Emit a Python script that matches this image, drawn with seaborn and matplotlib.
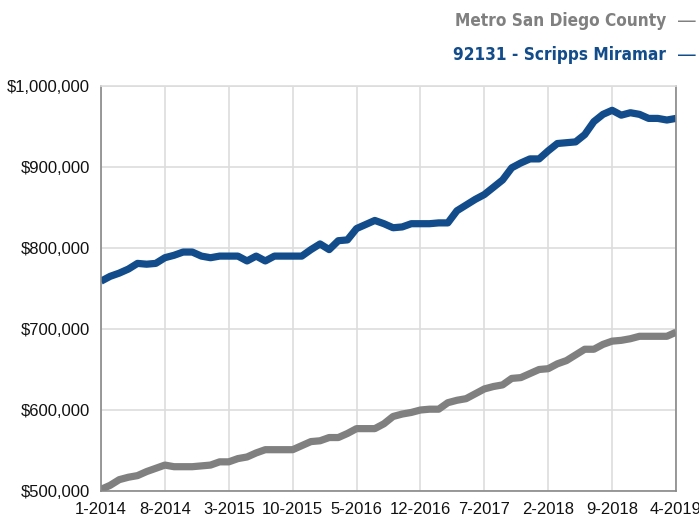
import matplotlib
matplotlib.use("Agg")
import matplotlib.pyplot as plt
import seaborn as sns
import pandas as pd
import numpy as np

tick_labels = ["1-2014", "8-2014", "3-2015", "10-2015", "5-2016", "12-2016",
               "7-2017", "2-2018", "9-2018", "4-2019"]

scripps = [759, 765, 769, 774, 781, 780, 781, 788, 791, 795, 795, 790,
           788, 790, 790, 790, 784, 790, 784, 790, 790, 790, 790, 798,
           805, 798, 809, 810, 824, 829, 834, 830, 825, 826, 830, 830,
           830, 831, 831, 846, 853, 860, 866, 875, 884, 899, 905, 910,
           910, 920, 929, 930, 931, 940, 956, 965, 970, 964, 967, 965,
           960, 960, 958, 960]

metro = [502, 507, 514, 517, 519, 524, 528, 532, 530, 530, 530, 531,
         532, 536, 536, 540, 542, 547, 551, 551, 551, 551, 556, 561,
         562, 566, 566, 571, 577, 577, 577, 583, 592, 595, 597, 600,
         601, 601, 609, 612, 614, 620, 626, 629, 631, 639, 640, 645,
         650, 651, 657, 661, 668, 675, 675, 681, 685, 686, 688, 691,
         691, 691, 691, 696]

series_names = ["Metro San Diego County", "92131 - Scripps Miramar"]
colors = {"Metro San Diego County": "#808080", "92131 - Scripps Miramar": "#124c8a"}

n = len(scripps)
df = pd.DataFrame({
    "month": list(range(n)) * 2,
    "value": [v * 1000 for v in metro] + [v * 1000 for v in scripps],
    "series": [series_names[0]] * n + [series_names[1]] * n,
})

sns.set_style("white")
plt.rcParams["font.family"] = ["Liberation Sans", "DejaVu Sans"]

fig = plt.figure(figsize=(6.99, 5.20), dpi=100)
ax = fig.add_axes([101 / 699, 1 - 491 / 520, 575 / 699, 405 / 520])

sns.lineplot(data=df, x="month", y="value", hue="series", palette=colors,
             linewidth=5.2, ax=ax, legend=False, solid_capstyle="butt")

ax.set_xlim(0, n - 1)
ax.set_ylim(500000, 1000000)
ax.set_xticks(range(0, n, 7))
ax.set_xticklabels(tick_labels, fontsize=12)
yt = [500000, 600000, 700000, 800000, 900000, 1000000]
ax.set_yticks(yt)
ax.set_yticklabels([f"${v:,.0f}" for v in yt], fontsize=12)
ax.set_xlabel("")
ax.set_ylabel("")

ax.grid(True, color="#dddddd", linewidth=1.2)
ax.set_axisbelow(True)
for s in ["left", "bottom", "right"]:
    ax.spines[s].set_color("#888888")
    ax.spines[s].set_linewidth(1.2)
ax.spines["top"].set_color("#dddddd")
ax.spines["top"].set_linewidth(1.2)
ax.tick_params(axis="x", length=5, width=1, color="#888888", pad=3, labelcolor="#111111")
ax.tick_params(axis="y", length=0, pad=8, labelcolor="#111111")

for label, yc, col in [(series_names[0], 21, "#808080"), (series_names[1], 55, "#124c8a")]:
    fig.text(666 / 699, 1 - yc / 520, label, ha="right", va="center",
             fontweight="bold", color=col, family=["DejaVu Sans"],
             fontsize=12.3, fontstretch="condensed")
    fig.text(697 / 699, 1 - yc / 520, "—", ha="right", va="center",
             fontweight="normal", color=col, family=["DejaVu Sans"], fontsize=14)

fig.savefig("out.png", dpi=100)
